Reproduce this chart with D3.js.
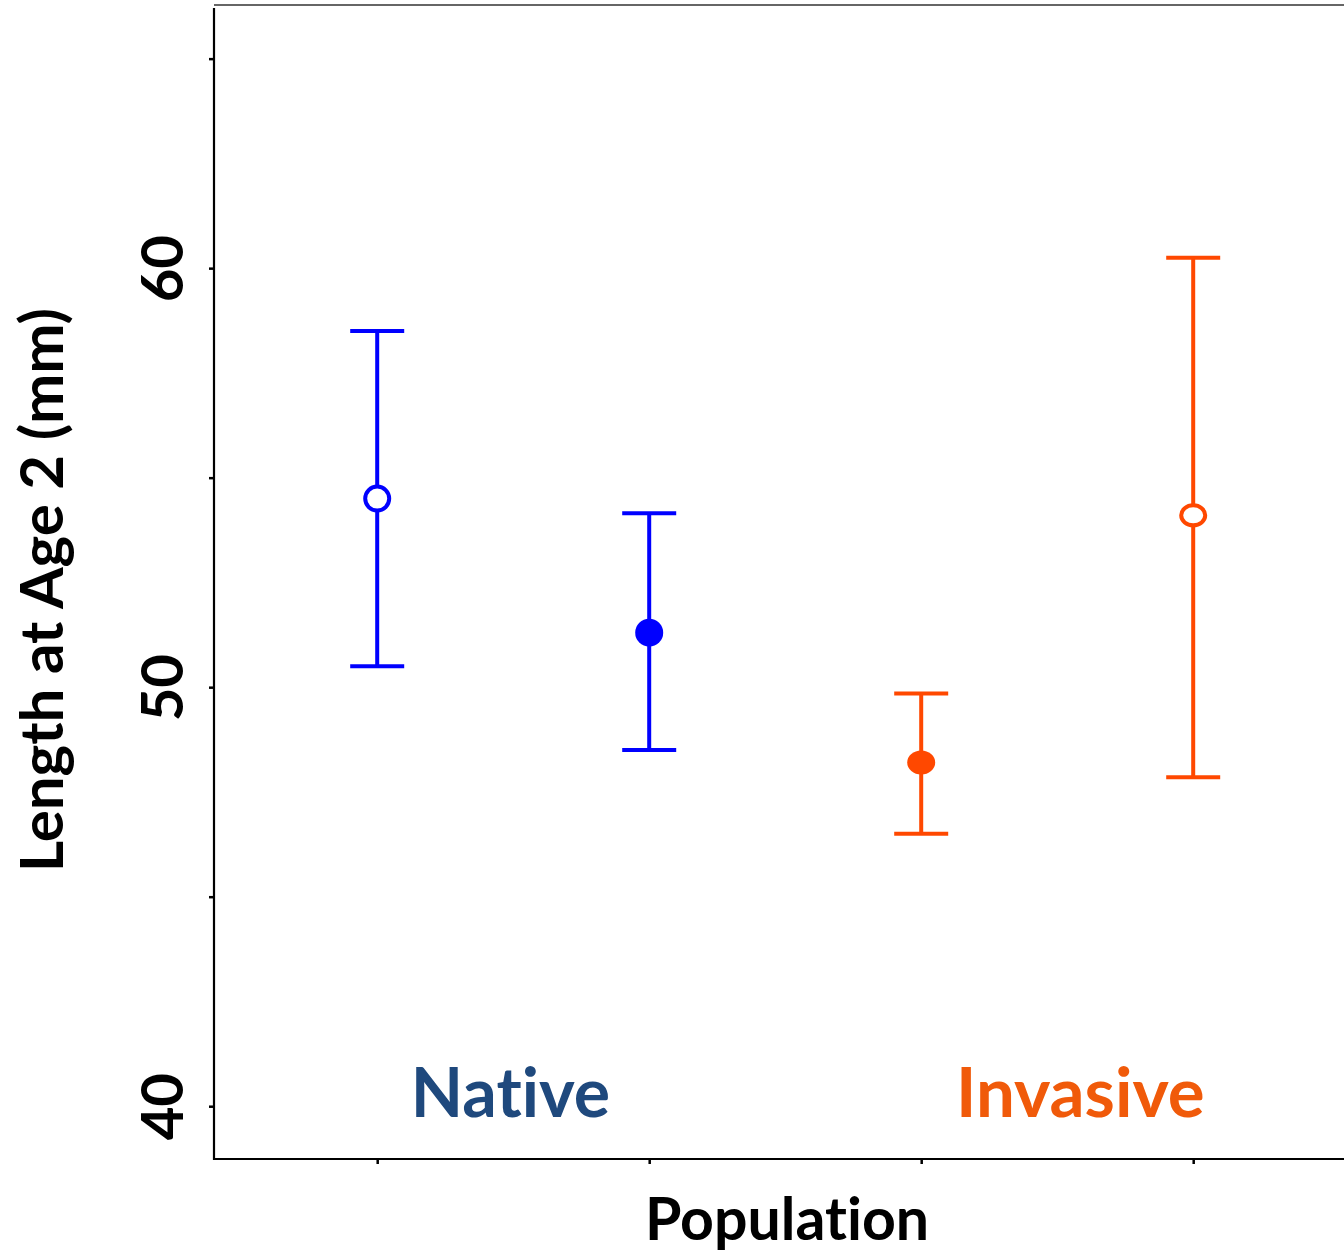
<!DOCTYPE html>
<html>
<head>
<meta charset="utf-8">
<script src="https://cdn.jsdelivr.net/npm/d3@7"></script>
<style>
  body { margin: 0; background: #fff; }
  text { font-family: Lato, "Open Sans", sans-serif; font-weight: bold;
         font-variant-ligatures: none; }
</style>
</head>
<body>
<div id="chart"></div>
<script>
// population index, mean, lower and upper bounds (mm)
var populations = [1, 2, 3, 4];
var means = [54.5, 51.3, 48.2, 54.1];
var lowers = [50.5, 48.5, 46.5, 47.85];
var uppers = [58.5, 54.15, 49.85, 60.25];
var groups = ["native", "native", "invasive", "invasive"];
var filled = [false, true, true, false];
var yTicks = [40, 45, 50, 55, 60, 65];
var yTickLabels = ["40", "", "50", "", "60", ""];
var groupLabels = ["Native", "Invasive"];

var width = 1344, height = 1253;
var colors = { native: "#0000ff", invasive: "#ff4800" };
var labelColors = { native: "#1f497d", invasive: "#f05a0a" };

var svg = d3.select("#chart").append("svg")
  .attr("width", width)
  .attr("height", height);

var x = d3.scaleLinear().domain([0.4, 4.6]).range([214, 214 + 4.2 * 272]);
var y = d3.scaleLinear().domain([38.74, 66.28]).range([1159, 5]);

var data = populations.map(function(p, i) {
  return { pop: p, mean: means[i], lo: lowers[i], hi: uppers[i],
           group: groups[i], filled: filled[i] };
});

// frame: top border
svg.append("line")
  .attr("x1", 214).attr("x2", width)
  .attr("y1", 5).attr("y2", 5)
  .attr("stroke", "#333").attr("stroke-width", 1.5);

// y axis
var yAxis = d3.axisLeft(y).tickValues(yTicks).tickSize(5)
  .tickFormat(function(d, i) { return yTickLabels[i]; });
var gy = svg.append("g").attr("transform", "translate(214,0)").call(yAxis);
gy.select(".domain").remove();
gy.append("line").attr("x1", 0).attr("x2", 0).attr("y1", 8).attr("y2", 1160)
  .attr("stroke", "#000").attr("stroke-width", 2.2);
gy.selectAll(".tick line").attr("stroke", "#000").attr("stroke-width", 2.5);
gy.selectAll(".tick text")
  .attr("x", 0).attr("dy", 0)
  .attr("transform", "translate(-31,0) rotate(-90)")
  .attr("text-anchor", "middle")
  .attr("font-size", 58)
  .attr("fill", "#000");

// x axis
var xAxis = d3.axisBottom(x).tickValues(populations).tickSize(5).tickFormat("");
var gx = svg.append("g").attr("transform", "translate(0,1159)").call(xAxis);
gx.select(".domain").remove();
gx.append("line").attr("x1", 213).attr("x2", width).attr("y1", 0).attr("y2", 0)
  .attr("stroke", "#000").attr("stroke-width", 2);
gx.selectAll(".tick line").attr("stroke", "#000").attr("stroke-width", 2.5);

// error bars
var capHalf = 27;
var bars = svg.append("g").selectAll("g").data(data).enter().append("g");
bars.append("line")
  .attr("x1", function(d) { return x(d.pop); })
  .attr("x2", function(d) { return x(d.pop); })
  .attr("y1", function(d) { return y(d.lo); })
  .attr("y2", function(d) { return y(d.hi); })
  .attr("stroke", function(d) { return colors[d.group]; })
  .attr("stroke-width", 4);
["lo", "hi"].forEach(function(k) {
  bars.append("line")
    .attr("x1", function(d) { return x(d.pop) - capHalf; })
    .attr("x2", function(d) { return x(d.pop) + capHalf; })
    .attr("y1", function(d) { return y(d[k]); })
    .attr("y2", function(d) { return y(d[k]); })
    .attr("stroke", function(d) { return colors[d.group]; })
    .attr("stroke-width", 4);
});
bars.append("ellipse")
  .attr("cx", function(d) { return x(d.pop); })
  .attr("cy", function(d) { return y(d.mean); })
  .attr("rx", function(d) { return d.filled ? 14 : 12; })
  .attr("ry", function(d) { return (d.filled ? 14 : 12) - (d.group === "invasive" ? 2 : 0); })
  .attr("fill", function(d) { return d.filled ? colors[d.group] : "#fff"; })
  .attr("stroke", function(d) { return d.filled ? "none" : colors[d.group]; })
  .attr("stroke-width", 4);

// group labels
svg.append("text")
  .attr("x", x(1.49)).attr("y", 1117)
  .attr("text-anchor", "middle").attr("font-size", 68)
  .attr("fill", labelColors.native)
  .text(groupLabels[0]);
svg.append("text")
  .attr("x", x(3.585)).attr("y", 1117)
  .attr("text-anchor", "middle").attr("font-size", 69)
  .attr("fill", labelColors.invasive)
  .text(groupLabels[1]);

// axis titles
svg.append("text")
  .attr("x", 787).attr("y", 1240)
  .attr("text-anchor", "middle").attr("font-size", 59)
  .attr("fill", "#000")
  .text("Population");
svg.append("text")
  .attr("transform", "translate(63,590) rotate(-90)")
  .attr("text-anchor", "middle").attr("font-size", 60)
  .attr("fill", "#000")
  .text("Length at Age 2 (mm)");
</script>
</body>
</html>
